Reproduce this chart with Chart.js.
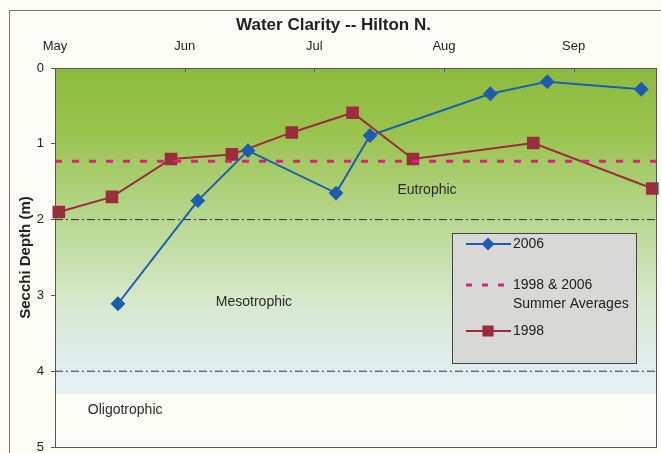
<!DOCTYPE html>
<html>
<head>
<meta charset="utf-8">
<script src="https://cdn.jsdelivr.net/npm/chart.js@4.4.1/dist/chart.umd.min.js"></script>
<style>
  html, body { margin: 0; padding: 0; background: #fcfbf4; }
  #wrap { width: 661px; height: 453px; }
</style>
</head>
<body>
<div id="wrap"><canvas id="myChart" width="661" height="453"></canvas></div>
<script>
// Chart data (x = days after May 1, y = Secchi depth in m)
const monthLabels = ['May', 'Jun', 'Jul', 'Aug', 'Sep'];
const monthDays = [0, 30.5, 61, 91.5, 122];
const depthTicks = [0, 1, 2, 3, 4, 5];

const days2006 = [14.8, 33.6, 45.4, 66.1, 74.1, 102.4, 115.8, 137.9];
const depth2006 = [3.11, 1.75, 1.09, 1.65, 0.89, 0.34, 0.18, 0.28];

const days1998 = [0.9, 13.4, 27.3, 41.6, 55.7, 70.0, 84.2, 112.5, 140.5];
const depth1998 = [1.90, 1.70, 1.20, 1.14, 0.85, 0.59, 1.20, 0.99, 1.59];

const summerAverage = 1.23;
const trophicBounds = [2, 4];

const zoneNames = ['Eutrophic', 'Mesotrophic', 'Oligotrophic'];
const zoneDays = [87.5, 46.8, 16.5];
const zoneDepths = [1.61, 3.09, 4.52];

const xMax = 141.6;
const FONT = "'Liberation Sans', Arial, sans-serif";

const toPoints = (xs, ys) => xs.map((x, i) => ({ x: x, y: ys[i] }));

// Dataset config
const data = {
  datasets: [
    {
      label: '2006',
      data: toPoints(days2006, depth2006),
      borderColor: '#1f5cb0',
      backgroundColor: '#1f5cb0',
      borderWidth: 2,
      pointStyle: 'rectRot',
      pointRadius: 6,
      clip: false,
      legendLines: ['2006']
    },
    {
      label: '1998 & 2006 Summer Averages',
      data: [{ x: 0, y: summerAverage }, { x: xMax, y: summerAverage }],
      borderColor: '#e0207a',
      borderWidth: 3,
      borderDash: [7, 10],
      pointRadius: 0,
      legendLines: ['1998 & 2006', 'Summer Averages']
    },
    {
      label: '1998',
      data: toPoints(days1998, depth1998),
      borderColor: '#9a2e3c',
      backgroundColor: '#9a2e3c',
      borderWidth: 2,
      pointStyle: 'rect',
      pointRadius: 7.5,
      clip: false,
      legendLines: ['1998']
    }
  ].concat(trophicBounds.map(b => ({
    label: 'bound ' + b,
    data: [{ x: 0, y: b }, { x: xMax, y: b }],
    borderColor: '#333',
    borderWidth: 1,
    borderDash: [8, 3, 2, 3],
    pointRadius: 0
  })))
};

// Background gradient, outer frame and top-axis tick marks
const backdrop = {
  id: 'backdrop',
  beforeDraw(chart) {
    const { ctx, chartArea: a, scales } = chart;
    ctx.save();
    ctx.fillStyle = '#fdfdf8';
    ctx.fillRect(9, 10, chart.width, chart.height);
    ctx.strokeStyle = '#777';
    ctx.lineWidth = 1;
    ctx.strokeRect(9.5, 10.5, chart.width + 5, chart.height);

    const yEnd = scales.y.getPixelForValue(4.3);
    const g = ctx.createLinearGradient(0, a.top, 0, yEnd);
    g.addColorStop(0, '#8cbb3e');
    g.addColorStop(0.2, '#99c44e');
    g.addColorStop(0.45, '#b6d68c');
    g.addColorStop(0.7, '#d5e8c8');
    g.addColorStop(0.9, '#e0edee');
    g.addColorStop(1, '#e6f0f2');
    ctx.fillStyle = g;
    ctx.fillRect(a.left, a.top, a.right - a.left, yEnd - a.top);
    ctx.fillStyle = '#fcfcf6';
    ctx.fillRect(a.left, yEnd, a.right - a.left, a.bottom - yEnd);
    ctx.restore();
  },
  afterDraw(chart) {
    const { ctx, chartArea: a, scales } = chart;
    ctx.save();
    ctx.strokeStyle = '#555';
    ctx.lineWidth = 1;
    ctx.strokeRect(a.left + 0.5, a.top + 0.5, a.right - a.left - 1, a.bottom - a.top);
    monthDays.slice(1).forEach(d => {
      const x = Math.round(scales.x.getPixelForValue(d)) + 0.5;
      ctx.beginPath();
      ctx.moveTo(x, a.top);
      ctx.lineTo(x, a.top + 4);
      ctx.stroke();
    });

    // zone names
    ctx.fillStyle = '#2a2a2a';
    ctx.font = '14px ' + FONT;
    ctx.textAlign = 'center';
    ctx.textBaseline = 'middle';
    zoneNames.forEach((n, i) => {
      ctx.fillText(n, scales.x.getPixelForValue(zoneDays[i]), scales.y.getPixelForValue(zoneDepths[i]));
    });
    ctx.restore();
  }
};

// Legend box drawn inside the plot
const boxLegend = {
  id: 'boxLegend',
  afterDraw(chart) {
    const { ctx } = chart;
    const box = { x: 452, y: 233, w: 184, h: 130 };
    const rows = [244, 285, 331];
    ctx.save();
    ctx.fillStyle = '#d8d8d6';
    ctx.fillRect(box.x, box.y, box.w, box.h);
    ctx.strokeStyle = '#444';
    ctx.lineWidth = 1;
    ctx.strokeRect(box.x + 0.5, box.y + 0.5, box.w, box.h);

    const items = chart.data.datasets.filter(ds => ds.legendLines);
    items.forEach((ds, i) => {
      const y = rows[i];
      ctx.strokeStyle = ds.borderColor;
      ctx.lineWidth = ds.borderWidth;
      ctx.setLineDash(ds.borderDash ? [6, 10] : []);
      ctx.beginPath();
      ctx.moveTo(466, y);
      ctx.lineTo(511, y);
      ctx.stroke();
      ctx.setLineDash([]);
      if (ds.pointRadius) {
        Chart.helpers.drawPoint(ctx, {
          pointStyle: ds.pointStyle, radius: ds.pointRadius - 1, borderWidth: 1, rotation: 0
        }, 488, y);
        ctx.fillStyle = ds.backgroundColor;
        ctx.strokeStyle = ds.borderColor;
        ctx.fill();
      }
      ctx.fillStyle = '#222';
      ctx.font = '14px ' + FONT;
      ctx.textAlign = 'left';
      ctx.textBaseline = 'middle';
      ds.legendLines.forEach((t, j) => ctx.fillText(t, 513, y + j * 19));
    });
    ctx.restore();
  }
};

const config = {
  type: 'line',
  data: data,
  options: {
    responsive: false,
    animation: false,
    devicePixelRatio: 1,
    layout: { autoPadding: false, padding: { left: 10, right: 4, top: 0, bottom: 6 } },
    plugins: {
      legend: { display: false },
      tooltip: { enabled: false },
      title: {
        display: true,
        text: 'Water Clarity -- Hilton N.',
        color: '#222',
        font: { family: FONT, size: 17, weight: 'bold', lineHeight: 1.2 },
        padding: { top: 15, bottom: 0 }
      }
    },
    elements: { line: { tension: 0 } },
    scales: {
      x: {
        type: 'linear',
        position: 'top',
        min: 0,
        max: xMax,
        afterBuildTicks: s => { s.ticks = monthDays.map(v => ({ value: v })); },
        afterFit: s => { s.height = 68 - 35.4; s.paddingLeft = 0; s.paddingRight = 0; },
        ticks: {
          callback: v => monthLabels[monthDays.indexOf(v)],
          color: '#222',
          font: { family: FONT, size: 13 },
          padding: 14,
          maxRotation: 0,
          autoSkip: false
        },
        grid: { display: false, drawTicks: false },
        border: { display: false }
      },
      y: {
        min: 0,
        max: 5,
        reverse: true,
        afterBuildTicks: s => { s.ticks = depthTicks.map(v => ({ value: v })); },
        afterFit: s => { s.width = 45; s.paddingTop = 0; s.paddingBottom = 0; },
        ticks: {
          color: '#222',
          font: { family: FONT, size: 13, lineHeight: 1 },
          padding: 7
        },
        grid: { drawOnChartArea: false, tickLength: 4, color: '#555' },
        border: { display: false },
        title: {
          display: true,
          text: 'Secchi Depth (m)',
          color: '#222',
          font: { family: FONT, size: 15, weight: 'bold', lineHeight: 1.2 },
          padding: { top: 7, bottom: 0 }
        }
      }
    }
  },
  plugins: [backdrop, boxLegend]
};

const ctx = document.getElementById('myChart');
new Chart(ctx, config);
</script>
</body>
</html>
